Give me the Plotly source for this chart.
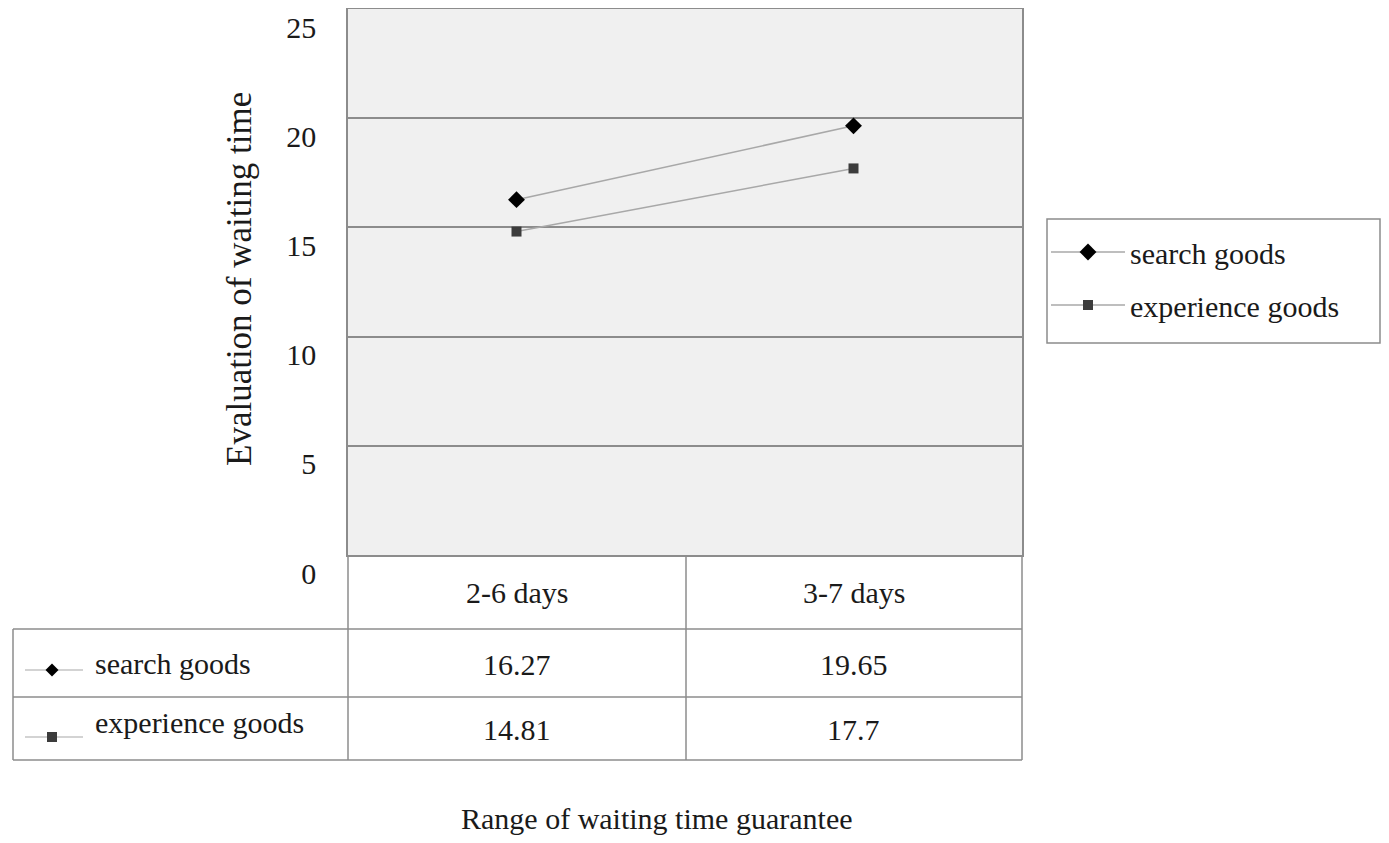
import plotly.graph_objects as go

# ---- data ----
categories = ["2-6 days", "3-7 days"]
search_goods = [16.27, 19.65]
experience_goods = [14.81, 17.7]
series_names = ["search goods", "experience goods"]
y_ticks = [0, 5, 10, 15, 20, 25]
x_title = "Range of waiting time guarantee"
y_title = "Evaluation of waiting time"

# ---- geometry / style ----
W, H = 1389, 843
OFF = 8  # page body margin of the html page
FONT = "Liberation Serif, Times New Roman, serif"
TXT = "#1a1a1a"
GRID = "#8c8c8c"
LINEC = "#a8a8a8"
FS = 30


def px(x):
    return (x - OFF) / W


def py(y):
    return 1 - (y - OFF) / H


L, R, T, B = 348, 1022, 9, 555
TL = 13          # table left edge
ROW1, ROW2, TB = 629, 697, 760
MID = 686

fig = go.Figure()
fig.add_trace(go.Scatter(
    x=categories, y=search_goods, name=series_names[0], mode="lines+markers",
    line=dict(color=LINEC, width=1.5),
    marker=dict(symbol="diamond", size=13, color="#000000"),
    legendgroup="a"))
fig.add_trace(go.Scatter(
    x=categories, y=experience_goods, name=series_names[1], mode="lines+markers",
    line=dict(color=LINEC, width=1.5),
    marker=dict(symbol="square", size=10, color="#3c3c3c"),
    legendgroup="b"))

shapes = []


def hline(y, x0, x1):
    shapes.append(dict(type="line", xref="paper", yref="paper", x0=px(x0), x1=px(x1),
                       y0=py(y), y1=py(y), line=dict(color=GRID, width=1.5), layer="above"))


def vline(x, y0, y1):
    shapes.append(dict(type="line", xref="paper", yref="paper", x0=px(x), x1=px(x),
                       y0=py(y0), y1=py(y1), line=dict(color=GRID, width=1.5), layer="above"))


# table grid
hline(ROW1, TL, R)
hline(ROW2, TL, R)
hline(TB, TL, R)
vline(TL, ROW1, TB)
vline(L, B, TB)
vline(MID, B, TB)
vline(R, B, TB)

# legend frame
shapes.append(dict(type="rect", xref="paper", yref="paper", x0=px(1047), x1=px(1380),
                   y0=py(343), y1=py(219), line=dict(color=GRID, width=1.5)))

# table row legend keys
icon_y = [670, 737]
for i, yy in enumerate(icon_y):
    shapes.append(dict(type="line", xref="paper", yref="paper", x0=px(25), x1=px(83),
                       y0=py(yy), y1=py(yy), line=dict(color=LINEC, width=1.2)))
cx, cy, r = 52, icon_y[0], 6.5
shapes.append(dict(type="path", xref="paper", yref="paper",
                   path=f"M{px(cx-r)},{py(cy)} L{px(cx)},{py(cy-r)} L{px(cx+r)},{py(cy)} L{px(cx)},{py(cy+r)} Z",
                   fillcolor="#000000", line=dict(width=0)))
cx, cy, s = 52, icon_y[1], 5
shapes.append(dict(type="rect", xref="paper", yref="paper",
                   x0=px(cx-s), x1=px(cx+s), y0=py(cy+s), y1=py(cy-s),
                   fillcolor="#3c3c3c", line=dict(width=0)))

annotations = []
font = dict(family=FONT, size=FS, color=TXT)
# header row (categories)
for c in categories:
    annotations.append(dict(x=c, xref="x", y=py(592), yref="paper", text=c, showarrow=False,
                            font=font, xanchor="center", yanchor="middle"))
# values rows
for c, v in zip(categories, search_goods):
    annotations.append(dict(x=c, xref="x", y=py(664), yref="paper", text=f"{v:g}", showarrow=False,
                            font=font, xanchor="center", yanchor="middle"))
for c, v in zip(categories, experience_goods):
    annotations.append(dict(x=c, xref="x", y=py(729), yref="paper", text=f"{v:g}", showarrow=False,
                            font=font, xanchor="center", yanchor="middle"))
# row labels
annotations.append(dict(x=px(93), y=py(663), xref="paper", yref="paper", text=series_names[0],
                        showarrow=False, font=font, xanchor="left", yanchor="middle"))
annotations.append(dict(x=px(93), y=py(722), xref="paper", yref="paper", text=series_names[1],
                        showarrow=False, font=font, xanchor="left", yanchor="middle"))
# axis titles
annotations.append(dict(x=px(657), y=py(818), xref="paper", yref="paper", text=x_title,
                        showarrow=False, font=font, xanchor="center", yanchor="middle"))
annotations.append(dict(x=px(240), y=py(279), xref="paper", yref="paper", text=y_title,
                        showarrow=False, font=dict(family=FONT, size=35, color=TXT),
                        textangle=-90, xanchor="center", yanchor="middle"))

fig.update_layout(
    width=W, height=H,
    margin=dict(l=0, r=0, t=0, b=0, autoexpand=False),
    paper_bgcolor="white",
    plot_bgcolor="#f0f0f0",
    font=dict(family=FONT, size=FS, color=TXT),
    xaxis=dict(domain=[px(L), px(R)], type="category", range=[-0.5, 1.5],
               showticklabels=False, showgrid=False, zeroline=False, automargin=False,
               showline=True, mirror=True, linecolor=GRID, linewidth=1.5, ticks=""),
    yaxis=dict(domain=[py(B), py(T)], range=[0, 25], tickvals=y_ticks, automargin=False,
               showgrid=True, gridcolor=GRID, gridwidth=1.5, zeroline=False,
               showline=True, mirror=True, linecolor=GRID, linewidth=1.5, ticks="",
               ticklabelshift=18, ticklabelstandoff=24,
               tickfont=dict(family=FONT, size=FS, color=TXT)),
    showlegend=True,
    legend=dict(x=px(1046), y=py(226), xanchor="left", yanchor="top",
                borderwidth=0, bgcolor="rgba(0,0,0,0)",
                font=dict(family=FONT, size=FS, color=TXT),
                tracegroupgap=11, traceorder="grouped", itemwidth=74),
    shapes=shapes,
    annotations=annotations,
)

fig.write_html("out.html")
